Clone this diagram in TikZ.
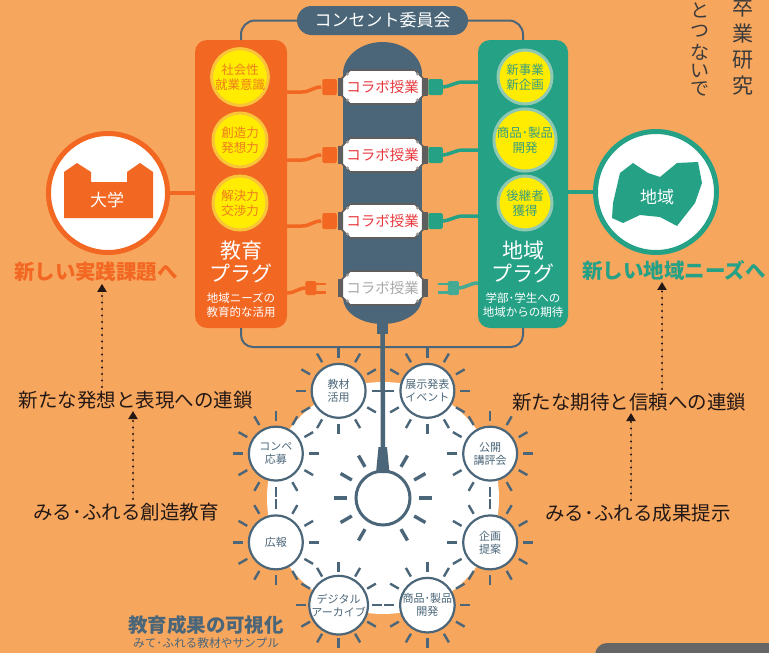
\documentclass[tikz,border=0pt]{standalone}
\usepackage{fontspec}
\setmainfont{Noto Sans CJK JP}
\usetikzlibrary{calc,shapes.misc,arrows.meta}

\definecolor{cBg}{HTML}{F7A65D}
\definecolor{cEdu}{HTML}{F26722}
\definecolor{cLoc}{HTML}{25A186}
\definecolor{cDk}{HTML}{4B6679}
\definecolor{cYel}{HTML}{FFEC00}
\definecolor{cYelRing}{HTML}{F9C43A}
\definecolor{cTealRing}{HTML}{8FC9B3}
\definecolor{cEduTxt}{HTML}{EF7D1E}
\definecolor{cLocTxt}{HTML}{3A9E7E}
\definecolor{cInk}{HTML}{231815}
\definecolor{cSockRed}{HTML}{E8383D}
\definecolor{cSockGrey}{HTML}{A9A9A9}
\definecolor{cSockLine}{HTML}{5E5E5E}
\definecolor{cSockDot}{HTML}{9A9A9A}
\definecolor{cPlugTeal}{HTML}{45AA94}
\definecolor{cPanel}{HTML}{666666}
\definecolor{cVert}{HTML}{3B3B3B}

\newcommand\pxfont[2]{\fontsize{#1}{#2}\selectfont}

\begin{document}
\begin{tikzpicture}[x=1pt,y=-1pt,
  txt/.style={inner sep=0pt,outer sep=0pt,align=center},
  plugbox/.style={rounded corners=12,minimum width=#1,minimum height=288,inner sep=0pt,outer sep=0pt},
  ybub/.style={circle,fill=cYel,line width=3,minimum size=54,inner sep=0pt,outer sep=0pt,align=center,font=\pxfont{12.5}{15}},
  socketbox/.style={chamfered rectangle,chamfered rectangle xsep=4pt,chamfered rectangle ysep=4pt,
    minimum width=79,minimum height=34,inner sep=0pt,outer sep=0pt,fill=white,draw=cSockLine,line width=1.6,
    font=\pxfont{14.5}{16}},
  ocable/.style={draw=cEdu,line width=3.5},
  gcable/.style={draw=cLoc,line width=3.5},
  sun/.style={circle,draw=cDk,line width=2.2,fill=white,minimum size=54,inner sep=0pt,outer sep=0pt,align=center,
    text=cDk,font=\pxfont{11}{13}},
  sunray/.style={draw=cDk,line width=2.4},
  bulbray/.style={draw=cDk,line width=3.4},
  dotarrow/.style={draw=cInk,fill=cInk,line width=2.4,line cap=round,dash pattern=on 0pt off 6.5pt,
    -{Triangle[width=9pt,length=8pt]},shorten >=2pt},
  biglabel/.style={txt,text=cInk,font=\pxfont{19.5}{22}},
]
\useasboundingbox (0,0) rectangle (769,653);
\clip (0,0) rectangle (769,653);
\fill[cBg] (0,0) rectangle (769,653);

% ---------- vertical heading, top right ----------
\foreach \ch/\yy [count=\i] in {卒/7.5,業/34,研/60,究/86}
  \node[txt,text=cVert,font=\pxfont{21}{21}] (va\i) at (743,\yy) {\ch};
\foreach \ch/\yy [count=\i] in {と/10,つ/31,な/52,い/71,で/89}
  \node[txt,text=cVert,font=\pxfont{19}{19}] (vb\i) at (700,\yy) {\ch};

% ---------- committee pill and the two plug boards ----------
\node[fill=cDk,text=white,rounded corners=14.5,minimum width=171,minimum height=29,inner sep=0pt,
  font=\pxfont{17}{17}] (cmte) at (382.5,20.5) {コンセント委員会};
\node[plugbox=92,fill=cEdu] (edu) at (241,184) {};
\node[plugbox=90,fill=cLoc] (loc) at (523,184) {};
\draw[cDk,line width=2,rounded corners=14] (cmte.west) -| (edu.north);
\draw[cDk,line width=2,rounded corners=14] (cmte.east) -| (loc.north);

\node[ybub,draw=cYelRing,text=cEduTxt] (e1) at (240,77) {社会性\\就業意識};
\node[ybub,draw=cYelRing,text=cEduTxt] (e2) at (240,140) {創造力\\発想力};
\node[ybub,draw=cYelRing,text=cEduTxt] (e3) at (240,203) {解決力\\交渉力};
\node[ybub,draw=cTealRing,text=cLocTxt] (l1) at (525,77) {新事業\\新企画};
\node[ybub,draw=cTealRing,text=cLocTxt] (l2) at (525,140) {商品･製品\\開発};
\node[ybub,draw=cTealRing,text=cLocTxt] (l3) at (525,203) {後継者\\獲得};

\node[txt,text=white,font=\pxfont{21}{23}] (eduttl) at (241,261.5) {教育\\プラグ};
\node[txt,text=white,font=\pxfont{11.5}{14}] (edusub) at (241,305) {地域ニーズの\\教育的な活用};
\node[txt,text=white,font=\pxfont{21}{23}] (locttl) at (523,261.5) {地域\\プラグ};
\node[txt,text=white,font=\pxfont{11.5}{14}] (locsub) at (523,305) {学部･学生への\\地域からの期待};

% ---------- power strip ----------
\fill[cDk] (343,74) rectangle (422,298);
\fill[cDk] (382.5,74) ellipse [x radius=39.5,y radius=32];
\fill[cDk] (382.5,298) ellipse [x radius=39.5,y radius=26];

\foreach \yy [count=\i] in {87,155,221,288}{
  \fill[cSockLine] (337.5,\yy-9) rectangle (427.5,\yy+9);
}
\foreach \yy [count=\i] in {87,155,221}{
  \node[socketbox,text=cSockRed] (k\i) at (382.5,\yy) {コラボ授業};
}
\node[socketbox,text=cSockGrey] (k4) at (382.5,288) {コラボ授業};
\foreach \i in {1,2,3,4}{
  \foreach \dx/\dy in {-35/-13,35/-13,-35/13,35/13}
    \fill[cSockDot] ($(k\i.center)+(\dx,\dy)$) circle (1.6);
}

% plugged sockets: cables and plug bodies
\foreach \i in {1,2,3}{
  \draw[ocable] ($(edu.east |- k\i.center)+(0,5)$) -- ++(15,0)
     .. controls +(8,0) and +(-8,0) .. ($(k\i.west)+(-21,0)$);
  \fill[cEdu,rounded corners=2] ($(k\i.west)+(-20,-8)$) rectangle ($(k\i.west)+(-5.5,8)$);
  \draw[gcable] ($(k\i.east)+(19,0)$) .. controls +(8,0) and +(-8,0) .. ($(loc.west |- k\i.center)+(-15,-5)$)
     -- ($(loc.west |- k\i.center)+(0,-5)$);
  \fill[cLoc,rounded corners=2] ($(k\i.east)+(5.5,-8)$) rectangle ($(k\i.east)+(20,8)$);
}
% unplugged socket: loose plugs with prongs
\draw[ocable] ($(edu.east |- k4.center)+(0,5)$) .. controls +(8,0) and +(-8,0) .. ($(k4.west)+(-36,0)$);
\fill[cEdu,rounded corners=1.5] ($(k4.west)+(-37,-7)$) rectangle ($(k4.west)+(-26,7)$);
\fill[cEdu] ($(k4.west)+(-27,-5.5)$) rectangle ($(k4.west)+(-16,-2.8)$);
\fill[cEdu] ($(k4.west)+(-27,2.8)$) rectangle ($(k4.west)+(-16,5.5)$);
\draw[draw=cPlugTeal,line width=3.5] ($(k4.east)+(35,0)$) .. controls +(8,0) and +(-8,0) .. ($(loc.west |- k4.center)+(0,-5)$);
\fill[cPlugTeal,rounded corners=1.5] ($(k4.east)+(25,-7)$) rectangle ($(k4.east)+(36,7)$);
\fill[cPlugTeal] ($(k4.east)+(15,-5.5)$) rectangle ($(k4.east)+(26,-2.8)$);
\fill[cPlugTeal] ($(k4.east)+(15,2.8)$) rectangle ($(k4.east)+(26,5.5)$);

% ---------- university and region badges ----------
\node[circle,draw=cEdu,line width=5,fill=white,minimum size=119,inner sep=0pt] (uni) at (108,193) {};
\fill[cEdu,shift={(uni.center)}] (-44,25) -- (-44,-21) -- (-31,-30) -- (-17,-21) -- (-17,-11) -- (19,-11)
   -- (19,-21) -- (32,-30) -- (45,-21) -- (45,25) -- cycle;
\node[txt,text=white,font=\pxfont{17}{17}] (unitxt) at (107,200) {大学};
\draw[cEdu,line width=3.5] (uni.east) -- (uni.east -| edu.west);

\node[circle,draw=cLoc,line width=5,fill=white,minimum size=121,inner sep=0pt] (reg) at (656,192) {};
\fill[cLoc,shift={(reg.center)}] (-23,-29) -- (-8,-19) -- (4,-15) -- (21,-29) -- (42,-30) -- (46,-9)
   -- (39,11) -- (21,34) -- (4,25) -- (-16,23) -- (-33,31) -- (-44,26) -- (-43,11) -- (-36,-19) -- cycle;
\node[txt,text=white,font=\pxfont{17}{17}] (regtxt) at (657,197) {地域};
\draw[cLoc,line width=3.5] (reg.west) -- (reg.west -| loc.east);

\node[txt,text=cEdu,font=\bfseries\pxfont{20.5}{22}] (unigoal) at (96,272) {新しい実践課題へ};
\node[txt,text=cLoc,font=\bfseries\pxfont{20.5}{22}] (reggoal) at (674,270) {新しい地域ニーズへ};

\node[biglabel] (idea) at (136,400) {新たな発想と表現への連鎖};
\node[biglabel] (mirul) at (126,512) {みる･ふれる創造教育};
\node[biglabel] (trust) at (629,402) {新たな期待と信頼への連鎖};
\node[biglabel] (mirur) at (638,513) {みる･ふれる成果提示};

\coordinate (a1) at ($(idea.north)+(-34,-4)$);
\coordinate (a2) at ($(mirul.north)+(7,-4)$);
\coordinate (a3) at ($(trust.north)+(33,-4)$);
\coordinate (a4) at ($(mirur.north)+(-7,-4)$);
\draw[dotarrow] (a1) -- (a1 |- unigoal.south);
\draw[dotarrow] (a2) -- (a2 |- idea.south);
\draw[dotarrow] (a3) -- (a3 |- reggoal.south);
\draw[dotarrow] (a4) -- (a4 |- trust.south);

% ---------- output hub: bulb and its ring of outlets ----------
\coordinate (hub) at (383,498);
\fill[white] (hub) circle (116);
\coordinate (brk) at (383,347);
\draw[cDk,line width=2,rounded corners=12] (edu.south) |- (brk) -| (loc.south);

\node[circle,draw=cDk,line width=3,fill=white,minimum size=54,inner sep=0pt] (bulb) at (hub) {};
\fill[cDk] (377,320) rectangle (388,334);
\coordinate (neck) at (382.5,334);
\draw[cDk,line width=4.5] (neck) -- ($(bulb.north)+(0,-20)$);
\fill[cDk] (378.5,447) -- (387,447) -- (389.5,473) -- (376,473) -- cycle;
\foreach \a in {0,30,60,120,150,180,210,240,300,330}
  \draw[bulbray] ($(bulb.center)+(\a:36)$) -- ($(bulb.center)+(\a:49)$);

\foreach \nm/\ang/\lab in {s1/247.5/{教材\\活用}, s2/292.5/{展示発表\\イベント}, s3/202.5/{コンペ\\応募},
    s4/337.5/{公開\\講評会}, s5/157.5/{広報}, s6/22.5/{企画\\提案},
    s7/112.5/{デジタル\\アーカイブ}, s8/67.5/{商品･製品\\開発}}{
  \node[sun] (\nm) at ($(hub)+(\ang:116)$) {\lab};
  \foreach \a in {0,30,...,330}
    \draw[sunray] ($(\nm.center)+(\a:33)$) -- ($(\nm.center)+(\a:43)$);
}

\node[txt,text=cDk,font=\bfseries\pxfont{19.5}{20}] (vis) at (206,625) {教育成果の可視化};
\node[txt,text=cDk,font=\pxfont{11.7}{12}] (vissub) at (206,643) {みて･ふれる教材やサンプル};

% ---------- panel peeking in at the lower right ----------
\fill[cPanel,rounded corners=12] (595,643) rectangle (800,700);
\end{tikzpicture}
\end{document}
